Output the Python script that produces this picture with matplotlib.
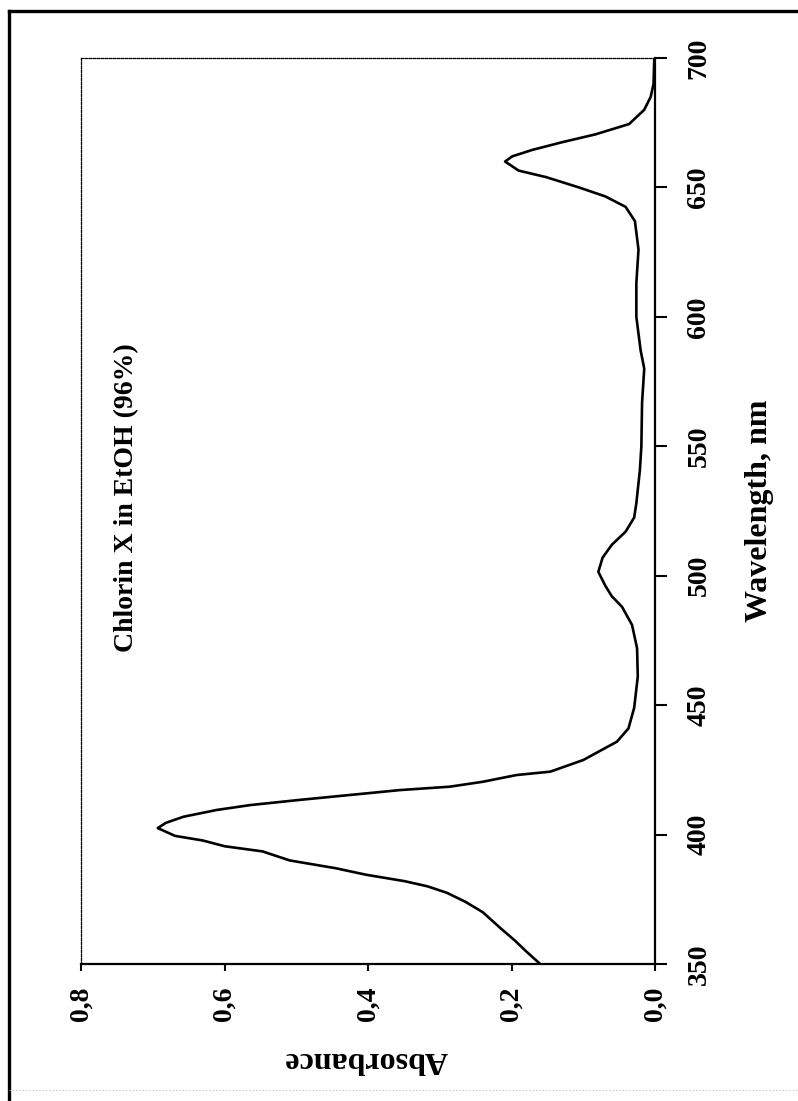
import matplotlib.pyplot as plt
from matplotlib.lines import Line2D

# Absorption spectrum of Chlorin X
wavelength = [350, 355, 359, 364, 370, 374, 377.5, 380, 382, 384.5, 387, 390,
              393.5, 395.5, 397.7, 399.5, 402.5, 404.5, 406.9, 409.5, 411.4,
              413.4, 415.3, 417.2, 418.5, 420.4, 423.0, 424.3, 428.8, 435.9,
              441, 449, 461, 472, 481, 488, 492, 496, 501.5, 507, 512, 517,
              522.5, 528, 541, 550, 567, 580, 587, 600, 613, 626, 637, 642.5,
              646.5, 650, 654, 656.5, 660, 662, 664.5, 667.5, 670.5, 674.5,
              680, 685, 690, 700]
absorbance = [0.160, 0.180, 0.195, 0.216, 0.240, 0.264, 0.290, 0.317, 0.349,
              0.403, 0.445, 0.509, 0.547, 0.600, 0.630, 0.669, 0.693, 0.682,
              0.657, 0.611, 0.564, 0.495, 0.425, 0.355, 0.286, 0.240, 0.193,
              0.146, 0.100, 0.053, 0.037, 0.029, 0.024, 0.025, 0.032, 0.046,
              0.060, 0.069, 0.079, 0.073, 0.060, 0.041, 0.029, 0.026, 0.021,
              0.019, 0.018, 0.015, 0.020, 0.026, 0.026, 0.023, 0.028, 0.041,
              0.069, 0.106, 0.152, 0.190, 0.209, 0.199, 0.171, 0.129, 0.083,
              0.036, 0.015, 0.006, 0.002, 0.001]

abs_ticks = [0.0, 0.2, 0.4, 0.6, 0.8]
abs_labels = ['0,0', '0,2', '0,4', '0,6', '0,8']
wl_ticks = [350, 400, 450, 500, 550, 600, 650, 700]
title = 'Chlorin X in EtOH (96%)'

plt.rcParams['font.family'] = 'Liberation Serif'
plt.rcParams['font.weight'] = 'bold'
plt.rcParams['axes.labelweight'] = 'bold'

W, H = 798, 1101
fig = plt.figure(figsize=(W / 100, H / 100), dpi=100)

# chart is drawn rotated by 90 degrees: wavelength runs upward on the right
ax = fig.add_axes([81 / W, 1 - 964 / H, (655 - 81) / W, (964 - 58) / H])
ax.plot(absorbance, wavelength, color='black', lw=1.9)

ax.set_xlim(0.8, 0.0)
ax.set_ylim(350, 700)
ax.set_xticks(abs_ticks)
ax.set_xticklabels(abs_labels)
ax.set_yticks(wl_ticks)
ax.set_yticklabels([str(t) for t in wl_ticks])

ax.yaxis.tick_right()
ax.yaxis.set_label_position('right')
ax.tick_params(axis='x', direction='out', length=5, width=1.5, pad=11,
               labelsize=20, labelrotation=90)
ax.tick_params(axis='y', direction='out', length=8.6, width=1.5, pad=14,
               labelsize=20, labelrotation=90)
for lab in ax.get_yticklabels():
    lab.set_verticalalignment('center')

for side in ['right', 'bottom']:
    ax.spines[side].set_linewidth(1.6)
for side in ['left', 'top']:
    ax.spines[side].set_linewidth(0.9)
    ax.spines[side].set_linestyle((0, (2, 1.2)))

ax.set_xlabel('Absorbance', fontsize=23, fontweight='bold', rotation=180, va='top')
ax.xaxis.set_label_coords(0.497, -0.089)
ax.set_ylabel('Wavelength, nm', fontsize=23, fontweight='bold', rotation=90)
ax.yaxis.set_label_coords(1.157, 0.5)

ax.text(0.736, 530, title, rotation=90, ha='center', va='center',
        fontsize=20, fontweight='bold')

# outer frame of the picture
fig.add_artist(Line2D([9 / W, 9 / W], [0, 1 - 11 / H], transform=fig.transFigure,
                      color='black', lw=2.4))
fig.add_artist(Line2D([9 / W, 1], [1 - 11 / H, 1 - 11 / H], transform=fig.transFigure,
                      color='black', lw=2.4))
fig.add_artist(Line2D([9 / W, 1], [1 - 1090 / H, 1 - 1090 / H], transform=fig.transFigure,
                      color='#bbbbbb', lw=0.8, ls=(0, (1, 2))))

fig.savefig('out.png', dpi=100)
